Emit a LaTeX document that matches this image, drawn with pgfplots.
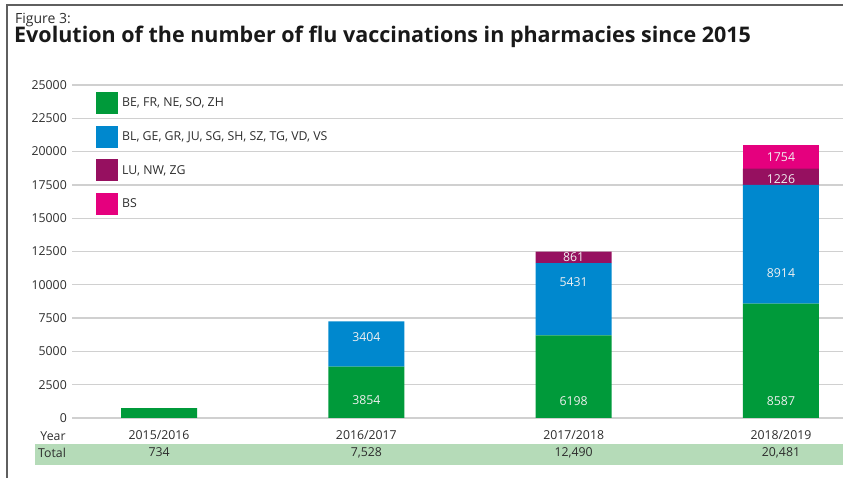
\documentclass[border=0pt]{standalone}
\usepackage{fontspec}
\setmainfont{Open Sans}
\usepackage{pgfplots}
\pgfplotsset{compat=1.18}
\definecolor{cgreen}{RGB}{0,154,58}
\definecolor{cblue}{RGB}{0,136,206}
\definecolor{cpurple}{RGB}{150,16,96}
\definecolor{cpink}{RGB}{229,0,126}
\definecolor{band}{RGB}{181,219,184}
\definecolor{txt}{RGB}{45,45,45}
\definecolor{gridc}{RGB}{208,208,208}
\definecolor{framec}{RGB}{95,95,95}
\definecolor{inlab}{RGB}{240,240,240}
\tikzset{inl/.style={text=inlab, inner sep=0pt, font=\fontsize{12.3bp}{14bp}\selectfont},
  tot/.style={text=txt, inner sep=0pt, anchor=base, yshift=-39bp, font=\fontsize{12.3bp}{14bp}\selectfont}}
\begin{document}
\begin{tikzpicture}[font=\fontsize{12.3bp}{14bp}\selectfont]
\path[use as bounding box] (0,0) rectangle (843bp,478bp);
\fill[band] (35bp,13bp) rectangle (843bp,34bp);
\draw[framec, line width=1.3bp] (7bp,0) -- (7bp,473bp) -- (843bp,473bp);
\node[anchor=base west, inner sep=0pt, text=txt, font=\fontsize{14bp}{18bp}\selectfont] at (15bp,454bp) {Figure 3:};
\node[anchor=base west, inner sep=0pt, text=black!90, font=\fontsize{21.5bp}{24bp}\selectfont\bfseries] at (14bp,435bp) {Evolution of the number of flu vaccinations in pharmacies since 2015};
\node[anchor=base, inner sep=0pt, text=txt] at (53bp,38bp) {Year};
\node[anchor=base west, inner sep=0pt, text=txt] at (38bp,21bp) {Total};
\begin{axis}[
  at={(72bp,60bp)}, anchor=south west,
  x=207.3bp, y=0.01332bp,
  xmin=-0.42, xmax=3.3, ymin=0, ymax=25000,
  ybar stacked, bar width=76bp,
  clip=false,
  axis line style={draw=none},
  major tick length=0pt,
  ymajorgrids, grid style={gridc, line width=1.3bp},
  ytick={0,2500,...,25000},
  scaled y ticks=false,
  yticklabel style={/pgf/number format/fixed, /pgf/number format/1000 sep={}, /pgf/number format/assume math mode=true, anchor=east, inner sep=0pt, xshift=-5bp, text=txt, font=\fontsize{12.3bp}{14bp}\selectfont},
  xtick={0,1,2,3},
  xticklabels={2015/2016,2016/2017,2017/2018,2018/2019},
  xticklabel style={anchor=base, inner sep=0pt, yshift=-22bp, text=txt, font=\fontsize{12.3bp}{14bp}\selectfont},
  legend style={at={(axis description cs:0,1)}, anchor=north west, xshift=21bp, yshift=-5bp, draw=none, fill=none, row sep=11.6bp, font=\fontsize{12.3bp}{14bp}\selectfont, text=txt, nodes={inner sep=0pt}, /tikz/every odd column/.append style={column sep=4bp}},
  legend cell align=left,
  legend image code/.code={\fill[#1] (0bp,-11bp) rectangle (22bp,11bp);},
]
\addplot[fill=cgreen, draw=none] coordinates {(0,734) (1,3854) (2,6198) (3,8587)};
\addplot[fill=cblue, draw=none] coordinates {(0,0) (1,3404) (2,5431) (3,8914)};
\addplot[fill=cpurple, draw=none] coordinates {(0,0) (1,0) (2,861) (3,1226)};
\addplot[fill=cpink, draw=none] coordinates {(0,0) (1,0) (2,0) (3,1754)};
\legend{{BE, FR, NE, SO, ZH},{BL, GE, GR, JU, SG, SH, SZ, TG, VD, VS},{LU, NW, ZG},{BS}}
\coordinate (a1) at (axis cs:1,1351);
\coordinate (a2) at (axis cs:1,6081);
\coordinate (a3) at (axis cs:2,1276);
\coordinate (a4) at (axis cs:2,10210);
\coordinate (a5) at (axis cs:2,12110);
\coordinate (a6) at (axis cs:3,1276);
\coordinate (a7) at (axis cs:3,10886);
\coordinate (a8) at (axis cs:3,17970);
\coordinate (a9) at (axis cs:3,19570);
\node[tot] at (axis cs:0,0) {734};
\node[tot] at (axis cs:1,0) {7,528};
\node[tot] at (axis cs:2,0) {12,490};
\node[tot] at (axis cs:3,0) {20,481};
\end{axis}
\node[inl] at (a1) {3854};
\node[inl] at (a2) {3404};
\node[inl] at (a3) {6198};
\node[inl] at (a4) {5431};
\node[inl] at (a5) {861};
\node[inl] at (a6) {8587};
\node[inl] at (a7) {8914};
\node[inl] at (a8) {1226};
\node[inl] at (a9) {1754};
\end{tikzpicture}
\end{document}
